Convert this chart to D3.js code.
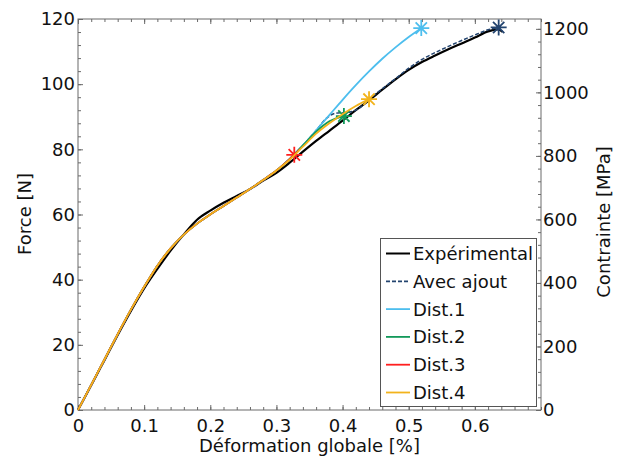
<!DOCTYPE html>
<html><head><meta charset="utf-8">
<script src="https://cdn.jsdelivr.net/npm/d3@7"></script>
<style>
html,body{margin:0;padding:0;background:#fff;}
svg{display:block;font-family:"DejaVu Sans",sans-serif;}
</style></head>
<body><svg id="c" width="621" height="459"></svg>
<script>
// ---- data ----
const seriesNames = ["Expérimental","Avec ajout","Dist.1","Dist.2","Dist.3","Dist.4"];
const expStrain = [0,0.02,0.04,0.06,0.08,0.10,0.12,0.14,0.16,0.18,0.20,0.22,0.24,0.26,0.28,0.30,0.32,0.34,0.36,0.38,0.40,0.42,0.44,0.46,0.48,0.50,0.52,0.54,0.56,0.58,0.60,0.62,0.635,0.642];
const expForce  = [0,7.6,15.3,23.0,30.4,37.3,43.3,48.9,53.9,58.4,61.2,63.6,65.7,67.8,70.4,72.8,75.9,79.3,82.6,85.7,88.8,92.0,95.0,98.3,101.5,104.4,106.8,108.8,110.7,112.5,114.3,116.2,116.8,116.0];
const ajoutStrain = [0,0.02,0.04,0.06,0.08,0.10,0.12,0.14,0.16,0.18,0.20,0.22,0.24,0.26,0.28,0.30,0.32,0.34,0.36,0.376,0.39,0.41,0.425,0.44,0.46,0.48,0.50,0.52,0.54,0.56,0.58,0.60,0.62,0.636];
const ajoutForce  = [0,7.7,15.5,23.3,30.8,37.8,44.3,49.6,53.8,57.2,60.0,62.6,65.2,67.8,70.6,73.5,77.0,81.2,85.8,89.6,91.1,91.4,92.6,95.3,98.6,101.7,104.9,107.6,109.7,111.6,113.4,115.1,116.7,117.4];
const d1Strain = [0,0.02,0.04,0.06,0.08,0.10,0.12,0.14,0.16,0.18,0.20,0.22,0.24,0.26,0.28,0.30,0.32,0.34,0.36,0.38,0.40,0.42,0.44,0.46,0.48,0.50,0.519];
const d1Force  = [0,7.7,15.5,23.3,30.8,37.8,44.3,49.6,53.8,57.2,60.0,62.6,65.2,67.8,70.6,73.5,77.0,81.2,85.8,90.5,95.2,99.7,103.9,107.8,111.3,114.5,117.2];
const d2Strain = [0,0.02,0.04,0.06,0.08,0.10,0.12,0.14,0.16,0.18,0.20,0.22,0.24,0.26,0.28,0.30,0.32,0.34,0.36,0.38,0.402];
const d2Force  = [0,7.7,15.5,23.3,30.8,37.8,44.3,49.6,53.8,57.2,60.0,62.6,65.2,67.8,70.6,73.5,77.1,81.2,85.4,88.6,90.2];
const d3Strain = [0,0.02,0.04,0.06,0.08,0.10,0.12,0.14,0.16,0.18,0.20,0.22,0.24,0.26,0.28,0.30,0.32,0.327];
const d3Force  = [0,7.7,15.5,23.3,30.8,37.8,44.3,49.6,53.8,57.2,60.0,62.6,65.2,67.8,70.6,73.5,77.0,78.3];
const d4Strain = [0,0.02,0.04,0.06,0.08,0.10,0.12,0.14,0.16,0.18,0.20,0.22,0.24,0.26,0.28,0.30,0.32,0.34,0.36,0.38,0.40,0.42,0.44];
const d4Force  = [0,7.7,15.5,23.3,30.8,37.8,44.3,49.6,53.8,57.2,60.0,62.6,65.2,67.8,70.6,73.5,76.8,80.8,84.8,88.0,90.8,93.3,95.4];
const xTicks = [0,0.1,0.2,0.3,0.4,0.5,0.6];
const yTicks = [0,20,40,60,80,100,120];
const yRTicks = [0,200,400,600,800,1000,1200];

const colors = ["#000000","#23446f","#4dbeee","#12995a","#ff1f1f","#f2b31c"];

// ---- layout ----
const svg = d3.select("#c");
const x = d3.scaleLinear([0,0.7],[78,541]);
const y = d3.scaleLinear([0,120],[410,19]);
const yR = d3.scaleLinear([0,1231],[410,19]);
const axisColor = "#6a6a6a";

function styleAxis(g){
  g.selectAll(".domain").remove();
  g.selectAll(".tick line").attr("stroke",axisColor);
  g.selectAll("text").attr("fill","#111").style("font-size","18px").style("font-family","DejaVu Sans");
}
const minorX = d3.range(0,0.7001,0.02).map(v=>+v.toFixed(2));
const minorY = d3.range(0,120.01,4);
const minorYR = d3.range(0,1231,40);

// bottom
svg.append("g").attr("transform","translate(0,410)")
  .call(d3.axisBottom(x).tickValues(minorX).tickFormat("").tickSize(-3)).call(styleAxis);
svg.append("g").attr("transform","translate(0,410)")
  .call(d3.axisBottom(x).tickValues(xTicks).tickFormat(d=>d===0?"0":d3.format(".1f")(d)).tickSize(-5).tickPadding(9)).call(styleAxis);
// top
svg.append("g").attr("transform","translate(0,19)")
  .call(d3.axisTop(x).tickValues(minorX).tickFormat("").tickSize(-3)).call(styleAxis);
svg.append("g").attr("transform","translate(0,19)")
  .call(d3.axisTop(x).tickValues(xTicks).tickFormat("").tickSize(-5)).call(styleAxis);
// left
svg.append("g").attr("transform","translate(78,0)")
  .call(d3.axisLeft(y).tickValues(minorY).tickFormat("").tickSize(-3)).call(styleAxis);
svg.append("g").attr("transform","translate(78,0)")
  .call(d3.axisLeft(y).tickValues(yTicks).tickFormat(d3.format("d")).tickSize(-5).tickPadding(3)).call(styleAxis);
// right
svg.append("g").attr("transform","translate(541,0)")
  .call(d3.axisRight(yR).tickValues(minorYR).tickFormat("").tickSize(-3)).call(styleAxis);
svg.append("g").attr("transform","translate(541,0)")
  .call(d3.axisRight(yR).tickValues(yRTicks).tickFormat(d3.format("d")).tickSize(-5).tickPadding(2)).call(styleAxis);

// frame
svg.append("rect").attr("x",78).attr("y",19).attr("width",463).attr("height",391)
  .attr("fill","none").attr("stroke",axisColor).attr("stroke-width",1);

// axis titles
svg.append("text").attr("x",309.5).attr("y",452).attr("text-anchor","middle")
  .style("font-size","18px").attr("fill","#111").text("Déformation globale [%]");
svg.append("text").attr("transform","translate(31,214) rotate(-90)").attr("text-anchor","middle")
  .style("font-size","18px").attr("fill","#111").text("Force [N]");
svg.append("text").attr("transform","translate(610,222) rotate(-90)").attr("text-anchor","middle")
  .style("font-size","18px").attr("fill","#111").text("Contrainte [MPa]");

// ---- series ----
const series = [
  {s:expStrain,f:expForce,w:2.2,dash:null,star:false},
  {s:ajoutStrain,f:ajoutForce,w:1.5,dash:"4,2",star:true},
  {s:d1Strain,f:d1Force,w:1.8,dash:null,star:true},
  {s:d2Strain,f:d2Force,w:1.8,dash:null,star:true},
  {s:d3Strain,f:d3Force,w:1.8,dash:null,star:true},
  {s:d4Strain,f:d4Force,w:1.8,dash:null,star:true}
];
const line = d3.line().x(d=>x(d[0])).y(d=>y(d[1])).curve(d3.curveMonotoneX);
function starPath(cx,cy,r){
  let p="";
  for(let k=0;k<4;k++){
    const a=k*Math.PI/4, dx=r*Math.cos(a), dy=r*Math.sin(a);
    p+=`M${cx-dx},${cy-dy}L${cx+dx},${cy+dy}`;
  }
  return p;
}
series.forEach((se,i)=>{
  const pts = se.s.map((v,j)=>[v,se.f[j]]);
  svg.append("path").datum(pts).attr("d",line).attr("fill","none")
    .attr("stroke",colors[i]).attr("stroke-width",se.w)
    .attr("stroke-linejoin","round")
    .attr("stroke-dasharray",se.dash);
  if(se.star){
    const last = pts[pts.length-1];
    svg.append("path").attr("d",starPath(x(last[0]),y(last[1]),8))
      .attr("stroke",colors[i]).attr("stroke-width",1.8).attr("fill","none");
  }
});

// ---- legend ----
const lg = svg.append("g");
lg.append("rect").attr("x",380.5).attr("y",238.5).attr("width",156).attr("height",168)
  .attr("fill","#fff").attr("stroke","#555").attr("stroke-width",1);
seriesNames.forEach((n,i)=>{
  const cy = 253.5 + i*27.8;
  lg.append("line").attr("x1",386).attr("x2",410).attr("y1",cy).attr("y2",cy)
    .attr("stroke",colors[i]).attr("stroke-width",i===0?2:1.8)
    .attr("stroke-dasharray",series[i].dash);
  lg.append("text").attr("x",413).attr("y",cy).attr("dy","0.36em")
    .style("font-size","18px").attr("fill","#111").text(n);
});
</script></body></html>
